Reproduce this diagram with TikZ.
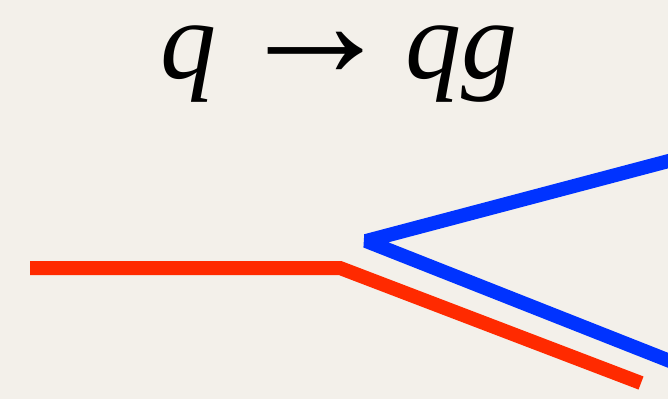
\documentclass[tikz,border=0pt]{standalone}
\usepackage{fontspec}
\setmainfont{Liberation Serif}
\definecolor{bg}{HTML}{F3F0EA}
\definecolor{qred}{HTML}{FF2A00}
\definecolor{gblue}{HTML}{0033FF}
\tikzset{
  line/.style={line width=14pt},
  big/.style={inner sep=2pt, font=\fontsize{112}{120}\selectfont\itshape}
}
\begin{document}
\begin{tikzpicture}[x=1pt,y=-1pt]
\fill[bg] (0,0) rectangle (668,399);
\useasboundingbox (0,0) rectangle (668,399);
\node[big, anchor=base west] (q1) at (158,78) {q};
\node[inner sep=2pt, anchor=center, font=\fontsize{160}{170}\selectfont] (arr) at (315,55) {→};
\node[big, anchor=base west] (q2) at (403,78) {qg};
\coordinate (a) at (30,268);
\coordinate (k) at (340,268);
\coordinate (e) at (641,383);
\coordinate (v) at (366,241);
\coordinate (u) at (680,158);
\coordinate (d) at (680,365);
\draw[line, qred] (a) -- (k) -- (e);
\draw[line, gblue, line join=bevel] (u) -- (v) -- (d);
\end{tikzpicture}
\end{document}
